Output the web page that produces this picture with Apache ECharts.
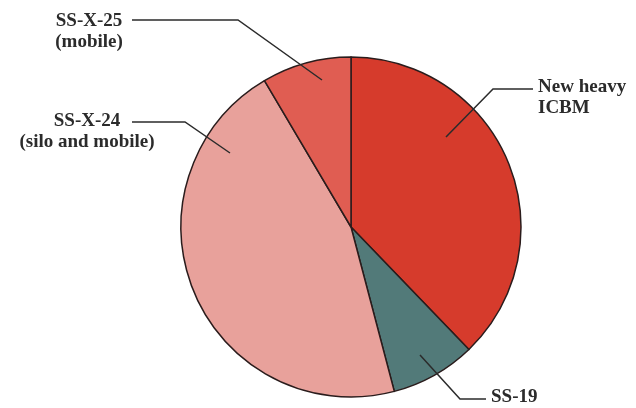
<!DOCTYPE html>
<html>
<head>
<meta charset="utf-8">
<script src="https://cdn.jsdelivr.net/npm/echarts@6/dist/echarts.min.js"></script>
<style>html,body{margin:0;padding:0;background:#fff;}#c{width:636px;height:408px;}</style>
</head>
<body>
<div id="c"></div>
<script>
const categories = ['New heavy\nICBM', 'SS-19', 'SS-X-24\n(silo and mobile)', 'SS-X-25\n(mobile)'];
const shares = [37.8, 8.1, 45.6, 8.5];
const colors = ['#d63b2c', '#527a79', '#e8a19b', '#e05d52'];

const labelPos = [
  {x: 538, y: 98, align: 'left', pts: [[533, 89], [493, 89], [446, 137]]},
  {x: 491, y: 397, align: 'left', pts: [[486, 399], [460, 399], [420, 355]]},
  {x: 87, y: 132, align: 'center', pts: [[132, 122], [185, 122], [230, 153]]},
  {x: 89, y: 32, align: 'center', pts: [[132, 20], [238, 20], [322, 80]]}
];

const common = {
  type: 'pie',
  center: [351, 227],
  radius: 170,
  startAngle: 90,
  clockwise: true,
  emphasis: {disabled: true}
};

const chart = echarts.init(document.getElementById('c'), null, {renderer: 'canvas'});
chart.setOption({
  backgroundColor: '#ffffff',
  animation: false,
  series: [
    Object.assign({}, common, {
      z: 2,
      data: categories.map((n, i) => ({name: n, value: shares[i], itemStyle: {color: colors[i]}})),
      itemStyle: {borderColor: '#2a1c1c', borderWidth: 1.5},
      label: {show: false},
      labelLine: {show: false}
    }),
    Object.assign({}, common, {
      z: 5,
      silent: true,
      data: categories.map((n, i) => ({name: n, value: shares[i]})),
      itemStyle: {color: 'rgba(0,0,0,0)', borderWidth: 0},
      label: {
        show: true,
        formatter: '{b}',
        fontFamily: 'Liberation Serif',
        fontSize: 19,
        fontWeight: 'bold',
        color: '#2b2b2b',
        lineHeight: 21,
        overflow: 'none'
      },
      labelLine: {show: true, lineStyle: {color: '#2b2b2b', width: 1.5}},
      labelLayout: function (p) {
        const l = labelPos[p.dataIndex];
        return {x: l.x, y: l.y, align: l.align, verticalAlign: 'middle', labelLinePoints: l.pts};
      }
    })
  ]
});
</script>
</body>
</html>
